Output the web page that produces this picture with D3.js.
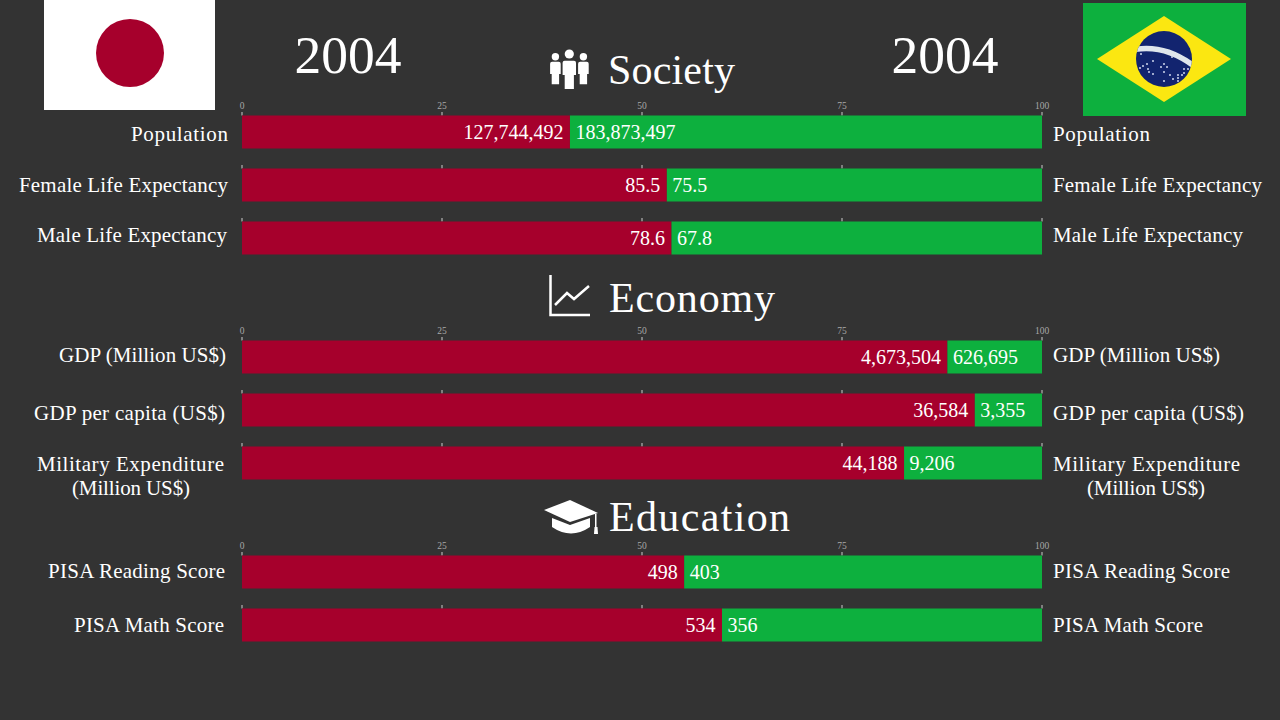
<!DOCTYPE html>
<html>
<head>
<meta charset="utf-8">
<script src="https://cdn.jsdelivr.net/npm/d3@7"></script>
<style>
	html, body {margin: 0; padding: 0; background: #333333;}
	svg {display: block;}
	text {font-family: "Liberation Serif", serif; fill: #ffffff;}
</style>
</head>
<body>
<svg id="chart" width="1280" height="720"></svg>
<script>
var year = '2004';
var sections = ['Society', 'Economy', 'Education'];
var sectionSizes = [3, 3, 2];
var labels = [
	'Population', 'Female Life Expectancy', 'Male Life Expectancy',
	'GDP (Million US$)', 'GDP per capita (US$)', ['Military Expenditure', '(Million US$)'],
	'PISA Reading Score', 'PISA Math Score'
];
var japanValues = [127744492, 85.5, 78.6, 4673504, 36584, 44188, 498, 534];
var brazilValues = [183873497, 75.5, 67.8, 626695, 3355, 9206, 403, 356];
var valueDigits = [0, 1, 1, 0, 0, 0, 0, 0];
var axisTicks = [0, 25, 50, 75, 100];

var params = {
	red: '#a6002c',
	green: '#0db03e',
	barHeight: 33,
	rowStep: 53,
	sectionTops: [115.5, 340.5, 555.5],
	sectionBaselines: [84, 312, 531],
	sectionX: [608, 609, 609],
	sectionWidths: [127, 166, 181],
	leftEnd: [228, 228, 227, 226, 225, 224, 225, 224],
	rightStart: 1053,
	labelDy: [25.5, 23.5, 20.5, 21.5, 26.5, 24.5, 22.5, 23.5],
	//the chart font runs a little narrower or wider than the original
	labelWidths: [97, 209, 190, 167, 191, 187, 177, 150]
};

var svg = d3.select('#chart');
var x = d3.scaleLinear().domain([0, 100]).range([242, 1042]);

//work out where each row sits, section by section
var rows = [];
sectionSizes.forEach(function(n, s) {
	for (var i = 0; i < n; i++) {
		rows.push({index: rows.length, section: s, top: params.sectionTops[s] + i * params.rowStep, first: i == 0});
	}
});

function formatValue(v, digits) {
	return digits ? d3.format('.' + digits + 'f')(v) : d3.format(',')(v);
}

function drawFlags() {
	svg.append('rect').attr('x', 44).attr('y', 0).attr('width', 171).attr('height', 110).attr('fill', '#ffffff');
	svg.append('circle').attr('cx', 130).attr('cy', 53).attr('r', 34).attr('fill', params.red);

	var b = svg.append('g');
	b.append('rect').attr('x', 1083).attr('y', 3).attr('width', 163).attr('height', 113).attr('fill', params.green);
	b.append('path').attr('d', 'M1097 59L1164 16L1231 59L1164 102Z').attr('fill', '#fbe711');
	b.append('circle').attr('cx', 1164).attr('cy', 59).attr('r', 28).attr('fill', '#12246f');
	b.append('clipPath').attr('id', 'globe').append('circle').attr('cx', 1164).attr('cy', 59).attr('r', 28);
	b.append('path').attr('d', 'M1134 49.5Q1165 44 1194 66')
		.attr('clip-path', 'url(#globe)')
		.attr('fill', 'none').attr('stroke', '#dfe6ec').attr('stroke-width', 5.5);
	var stars = [[1141,54],[1172,57],[1153,61],[1143,66],[1147,64],[1140,68],[1148,69],[1149,72],[1153,74],[1164,64],[1161,67],[1167,67],[1164,72],[1170,75],[1173,79],[1178,75],[1178,78],[1178,81],[1182,75],[1184,73],[1184,69],[1188,69],[1164,81]];
	b.selectAll('.star').data(stars).enter().append('circle')
		.attr('class', 'star')
		.attr('cx', function(d) {return d[0];})
		.attr('cy', function(d) {return d[1];})
		.attr('r', 1)
		.attr('fill', '#cfd6ec');

	svg.append('text').attr('x', 348).attr('y', 73).attr('text-anchor', 'middle').attr('font-size', 53.5).text(year);
	svg.append('text').attr('x', 945).attr('y', 73).attr('text-anchor', 'middle').attr('font-size', 53.5).text(year);
}

//one figure of the people icon: head, shoulders, legs
function person(g, cx, headY, r, halfBody, halfLegs, bodyTop, hipY, footY) {
	g.append('circle').attr('cx', cx).attr('cy', headY).attr('r', r);
	g.append('path').attr('d',
		'M' + (cx - halfBody) + ' ' + (bodyTop + 2) + 'Q' + (cx - halfBody) + ' ' + bodyTop + ' ' + (cx - halfBody + 2) + ' ' + bodyTop +
		'H' + (cx + halfBody - 2) + 'Q' + (cx + halfBody) + ' ' + bodyTop + ' ' + (cx + halfBody) + ' ' + (bodyTop + 2) +
		'V' + hipY + 'H' + (cx + halfLegs) + 'V' + footY + 'H' + (cx - halfLegs) + 'V' + hipY + 'H' + (cx - halfBody) + 'Z');
}

function drawIcons() {
	var p = svg.append('g').attr('fill', '#ffffff');
	person(p, 555.4, 56.7, 3.7, 5.3, 3.7, 61.7, 74, 84.3);
	person(p, 583.4, 56.7, 3.7, 5.3, 3.7, 61.7, 74, 84.3);
	person(p, 569.3, 54, 4.6, 6.7, 4.6, 60.7, 75, 89);

	//line chart
	svg.append('path').attr('d', 'M550.5 275V315H590').attr('fill', 'none').attr('stroke', '#ffffff').attr('stroke-width', 2.5);
	svg.append('path').attr('d', 'M555 305L567 293L574 299L589 286').attr('fill', 'none').attr('stroke', '#ffffff').attr('stroke-width', 2.5);

	//graduation cap
	var c = svg.append('g').attr('fill', '#ffffff');
	c.append('path').attr('d', 'M544 510L570 500L598 513L570 522Z');
	c.append('path').attr('d', 'M552 518L570 525L590 518V527Q571 540 552 527Z');
	c.append('rect').attr('x', 595).attr('y', 514).attr('width', 1.5).attr('height', 14);
	c.append('path').attr('d', 'M594.5 527H597.5L598 534H594Z');
}

function drawHeadings() {
	svg.selectAll('.heading').data(sections).enter().append('text')
		.attr('class', 'heading')
		.attr('x', function(d, i) {return params.sectionX[i];})
		.attr('y', function(d, i) {return params.sectionBaselines[i];})
		.attr('font-size', 42)
		.attr('textLength', function(d, i) {return params.sectionWidths[i];})
		.text(function(d) {return d;});
}

function drawRows() {
	var g = svg.selectAll('.row').data(rows).enter().append('g').attr('class', 'row');

	g.each(function(r) {
		var axis = d3.axisTop(x).tickValues(axisTicks).tickSize(3.5).tickSizeOuter(0);
		var a = d3.select(this).append('g')
			.attr('transform', 'translate(-0.5,' + r.top + ')')
			.call(axis);
		a.select('.domain').remove();
		a.selectAll('line').attr('stroke', '#b5b5b5').attr('stroke-width', 1.2);
		if (r.first) {
			a.selectAll('text')
				.style('fill', '#a8a8a8')
				.attr('font-size', 9.5)
				.attr('font-family', '"Liberation Serif", serif');
		} else {
			a.selectAll('text').remove();
		}
	});

	var share = function(r) {
		var i = r.index;
		return japanValues[i] / (japanValues[i] + brazilValues[i]) * 100;
	};

	g.append('rect')
		.attr('x', x(0))
		.attr('y', function(r) {return r.top;})
		.attr('width', function(r) {return x(share(r)) - x(0);})
		.attr('height', params.barHeight)
		.attr('fill', params.red);

	g.append('rect')
		.attr('x', function(r) {return x(share(r));})
		.attr('y', function(r) {return r.top;})
		.attr('width', function(r) {return x(100) - x(share(r));})
		.attr('height', params.barHeight)
		.attr('fill', params.green);

	g.append('text')
		.attr('x', function(r) {return x(share(r)) - 6.5;})
		.attr('y', function(r) {return r.top + 23.5;})
		.attr('text-anchor', 'end')
		.attr('font-size', 20)
		.text(function(r) {return formatValue(japanValues[r.index], valueDigits[r.index]);});

	g.append('text')
		.attr('x', function(r) {return x(share(r)) + 5.5;})
		.attr('y', function(r) {return r.top + 23.5;})
		.attr('font-size', 20)
		.text(function(r) {return formatValue(brazilValues[r.index], valueDigits[r.index]);});

	//row labels on both sides, the two-line one has its second line centred under the first
	g.each(function(r) {
		var label = labels[r.index];
		var y = r.top + params.labelDy[r.index];
		var left = params.leftEnd[r.index];
		var w = params.labelWidths[r.index];
		var sel = d3.select(this);
		var first = Array.isArray(label) ? label[0] : label;
		sel.append('text').attr('class', 'lbl').attr('x', left - w).attr('y', y).attr('textLength', w).text(first);
		sel.append('text').attr('class', 'lbl').attr('x', params.rightStart).attr('y', y).attr('textLength', w).text(first);
		if (Array.isArray(label)) {
			sel.append('text').attr('class', 'lbl').attr('x', 131 - 59).attr('y', y + 24).attr('textLength', 118).text(label[1]);
			sel.append('text').attr('class', 'lbl').attr('x', 1146 - 59).attr('y', y + 24).attr('textLength', 118).text(label[1]);
		}
	});
	svg.selectAll('.lbl').attr('font-size', 21);
}

drawFlags();
drawIcons();
drawHeadings();
drawRows();
</script>
</body>
</html>
